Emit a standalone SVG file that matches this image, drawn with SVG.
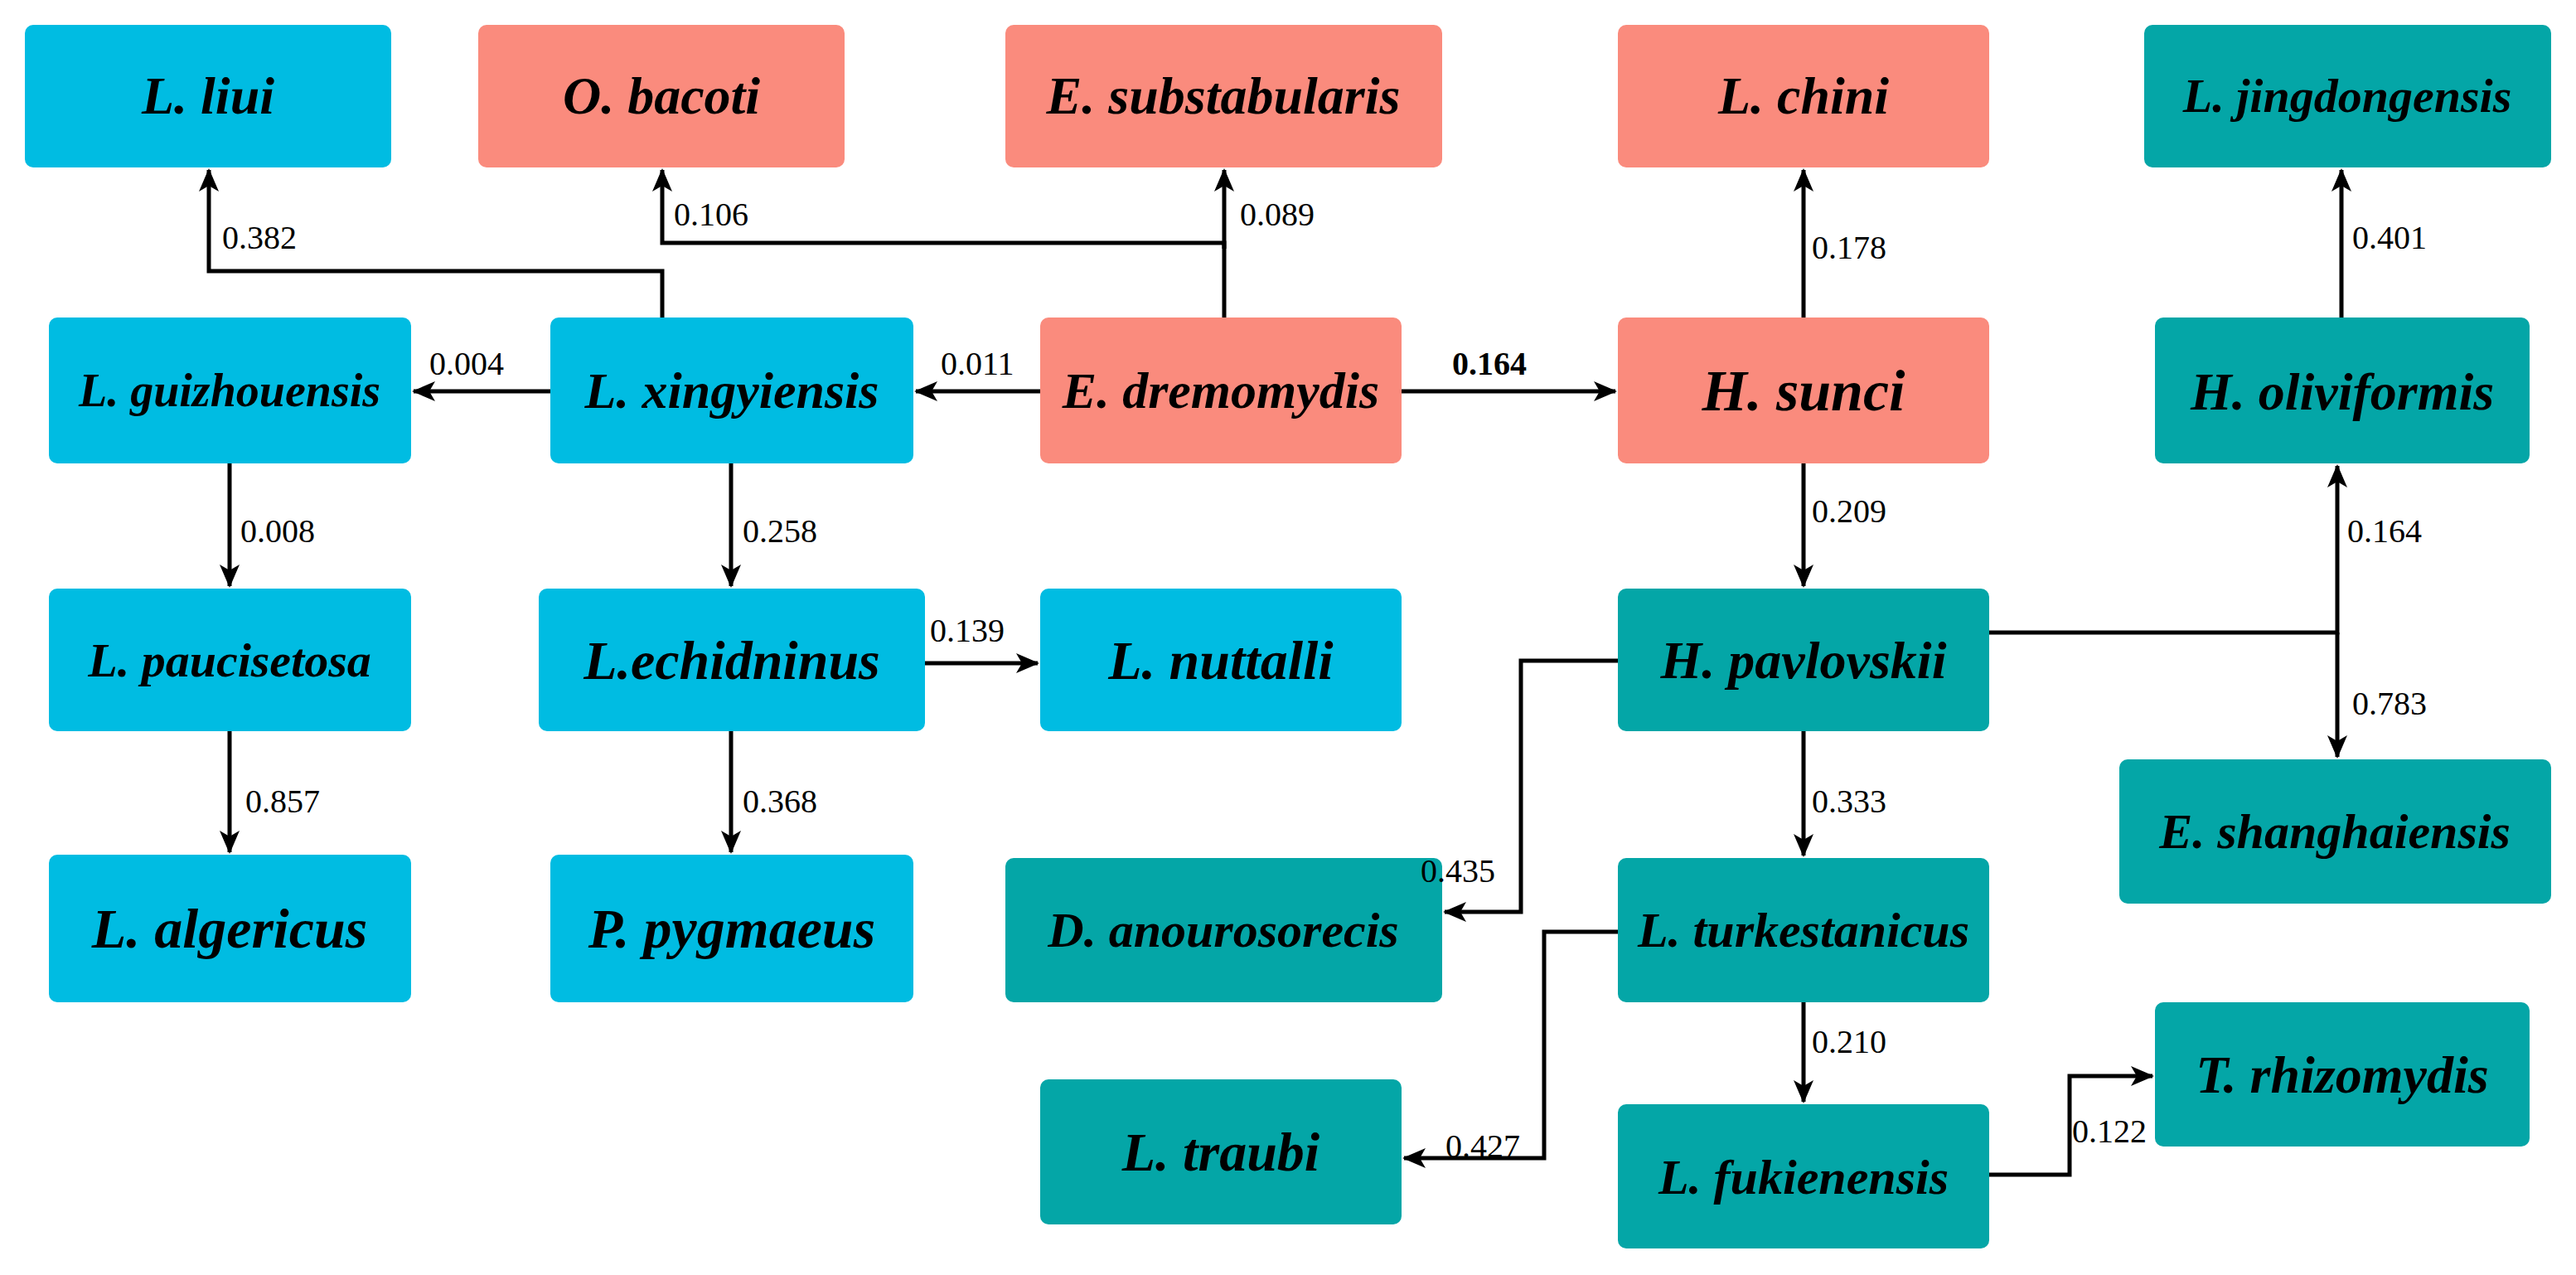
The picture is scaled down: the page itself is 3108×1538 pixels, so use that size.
<svg xmlns="http://www.w3.org/2000/svg" width="3108" height="1538" viewBox="0 0 3108 1538">
<style>
.b{fill:#00BCE2}.s{fill:#FA8B7D}.t{fill:#04A6A7}
.n text{font-family:"Liberation Serif",serif;font-style:italic;font-weight:bold;text-anchor:middle;fill:#000}
.e path{fill:none;stroke:#000;stroke-width:5}
.l{font-family:"Liberation Serif",serif;font-size:40px;fill:#000}
</style>
<defs><marker id="a" markerUnits="userSpaceOnUse" markerWidth="30" markerHeight="30" refX="26" refY="15" orient="auto"><path d="M0,3 L28,15 L0,27 L7,15 Z" fill="#000"/></marker></defs>
<rect width="3108" height="1538" fill="#fff"/>
<g class="e">
<path d="M799,383 V327 H252 V205" marker-end="url(#a)"/>
<path d="M1477,383 V293 H799 V205" marker-end="url(#a)"/>
<path d="M1477,300 V205" marker-end="url(#a)"/>
<path d="M1255,472 H1105" marker-end="url(#a)"/>
<path d="M664,472 H499" marker-end="url(#a)"/>
<path d="M1691,472 H1949" marker-end="url(#a)"/>
<path d="M2176,383 V205" marker-end="url(#a)"/>
<path d="M2825,383 V205" marker-end="url(#a)"/>
<path d="M277,559 V707" marker-end="url(#a)"/>
<path d="M882,559 V707" marker-end="url(#a)"/>
<path d="M1116,800 H1252" marker-end="url(#a)"/>
<path d="M277,882 V1028" marker-end="url(#a)"/>
<path d="M882,882 V1028" marker-end="url(#a)"/>
<path d="M2176,559 V707" marker-end="url(#a)"/>
<path d="M2400,763 H2820 V562" marker-end="url(#a)"/>
<path d="M2820,763 V913" marker-end="url(#a)"/>
<path d="M1952,797 H1835 V1100 H1743" marker-end="url(#a)"/>
<path d="M2176,882 V1032" marker-end="url(#a)"/>
<path d="M1952,1124 H1863 V1397 H1694" marker-end="url(#a)"/>
<path d="M2176,1209 V1329" marker-end="url(#a)"/>
<path d="M2400,1417 H2497 V1298 H2597" marker-end="url(#a)"/>
</g>
<g id="n-liui" class="n"><rect class="b" x="30" y="30" width="442" height="172" rx="10"/><text x="251" y="137" font-size="64">L. liui</text></g>
<g id="n-bacoti" class="n"><rect class="s" x="577" y="30" width="442" height="172" rx="10"/><text x="798" y="137" font-size="64">O. bacoti</text></g>
<g id="n-substab" class="n"><rect class="s" x="1213" y="30" width="527" height="172" rx="10"/><text x="1476" y="137" font-size="64">E. substabularis</text></g>
<g id="n-chini" class="n"><rect class="s" x="1952" y="30" width="448" height="172" rx="10"/><text x="2176" y="137" font-size="64">L. chini</text></g>
<g id="n-jing" class="n"><rect class="t" x="2587" y="30" width="491" height="172" rx="10"/><text x="2832" y="135" font-size="58">L. jingdongensis</text></g>
<g id="n-guiz" class="n"><rect class="b" x="59" y="383" width="437" height="176" rx="10"/><text x="277" y="490" font-size="56">L. guizhouensis</text></g>
<g id="n-xing" class="n"><rect class="b" x="664" y="383" width="438" height="176" rx="10"/><text x="883" y="492" font-size="62">L. xingyiensis</text></g>
<g id="n-drem" class="n"><rect class="s" x="1255" y="383" width="436" height="176" rx="10"/><text x="1473" y="492" font-size="62">E. dremomydis</text></g>
<g id="n-sunci" class="n"><rect class="s" x="1952" y="383" width="448" height="176" rx="10"/><text x="2176" y="495" font-size="70">H. sunci</text></g>
<g id="n-olivi" class="n"><rect class="t" x="2600" y="383" width="452" height="176" rx="10"/><text x="2826" y="494" font-size="64">H. oliviformis</text></g>
<g id="n-pauc" class="n"><rect class="b" x="59" y="710" width="437" height="172" rx="10"/><text x="277" y="816" font-size="58">L. paucisetosa</text></g>
<g id="n-echid" class="n"><rect class="b" x="650" y="710" width="466" height="172" rx="10"/><text x="883" y="819" font-size="66">L.echidninus</text></g>
<g id="n-nutt" class="n"><rect class="b" x="1255" y="710" width="436" height="172" rx="10"/><text x="1473" y="819" font-size="66">L. nuttalli</text></g>
<g id="n-pavl" class="n"><rect class="t" x="1952" y="710" width="448" height="172" rx="10"/><text x="2176" y="818" font-size="64">H. pavlovskii</text></g>
<g id="n-shang" class="n"><rect class="t" x="2557" y="916" width="521" height="174" rx="10"/><text x="2817" y="1023" font-size="60">E. shanghaiensis</text></g>
<g id="n-alger" class="n"><rect class="b" x="59" y="1031" width="437" height="178" rx="10"/><text x="277" y="1143" font-size="68">L. algericus</text></g>
<g id="n-pygm" class="n"><rect class="b" x="664" y="1031" width="438" height="178" rx="10"/><text x="883" y="1143" font-size="68">P. pygmaeus</text></g>
<g id="n-anour" class="n"><rect class="t" x="1213" y="1035" width="527" height="174" rx="10"/><text x="1476" y="1142" font-size="60">D. anourosorecis</text></g>
<g id="n-turk" class="n"><rect class="t" x="1952" y="1035" width="448" height="174" rx="10"/><text x="2176" y="1142" font-size="60">L. turkestanicus</text></g>
<g id="n-rhizo" class="n"><rect class="t" x="2600" y="1209" width="452" height="174" rx="10"/><text x="2826" y="1318" font-size="64">T. rhizomydis</text></g>
<g id="n-traubi" class="n"><rect class="t" x="1255" y="1302" width="436" height="175" rx="10"/><text x="1473" y="1412" font-size="66">L. traubi</text></g>
<g id="n-fuki" class="n"><rect class="t" x="1952" y="1332" width="448" height="174" rx="10"/><text x="2176" y="1440" font-size="60">L. fukienensis</text></g>
<g id="labels">
<text class="l" x="268" y="300">0.382</text>
<text class="l" x="813" y="272">0.106</text>
<text class="l" x="1496" y="272">0.089</text>
<text class="l" x="1135" y="452">0.011</text>
<text class="l" x="518" y="452">0.004</text>
<text class="l" x="1752" y="452" font-weight="bold">0.164</text>
<text class="l" x="2186" y="312">0.178</text>
<text class="l" x="2838" y="300">0.401</text>
<text class="l" x="290" y="654">0.008</text>
<text class="l" x="896" y="654">0.258</text>
<text class="l" x="1122" y="774">0.139</text>
<text class="l" x="296" y="980">0.857</text>
<text class="l" x="896" y="980">0.368</text>
<text class="l" x="2186" y="630">0.209</text>
<text class="l" x="2832" y="654">0.164</text>
<text class="l" x="2838" y="862">0.783</text>
<text class="l" x="1714" y="1064">0.435</text>
<text class="l" x="2186" y="980">0.333</text>
<text class="l" x="1744" y="1396">0.427</text>
<text class="l" x="2186" y="1270">0.210</text>
<text class="l" x="2500" y="1378">0.122</text>
</g>
</svg>
